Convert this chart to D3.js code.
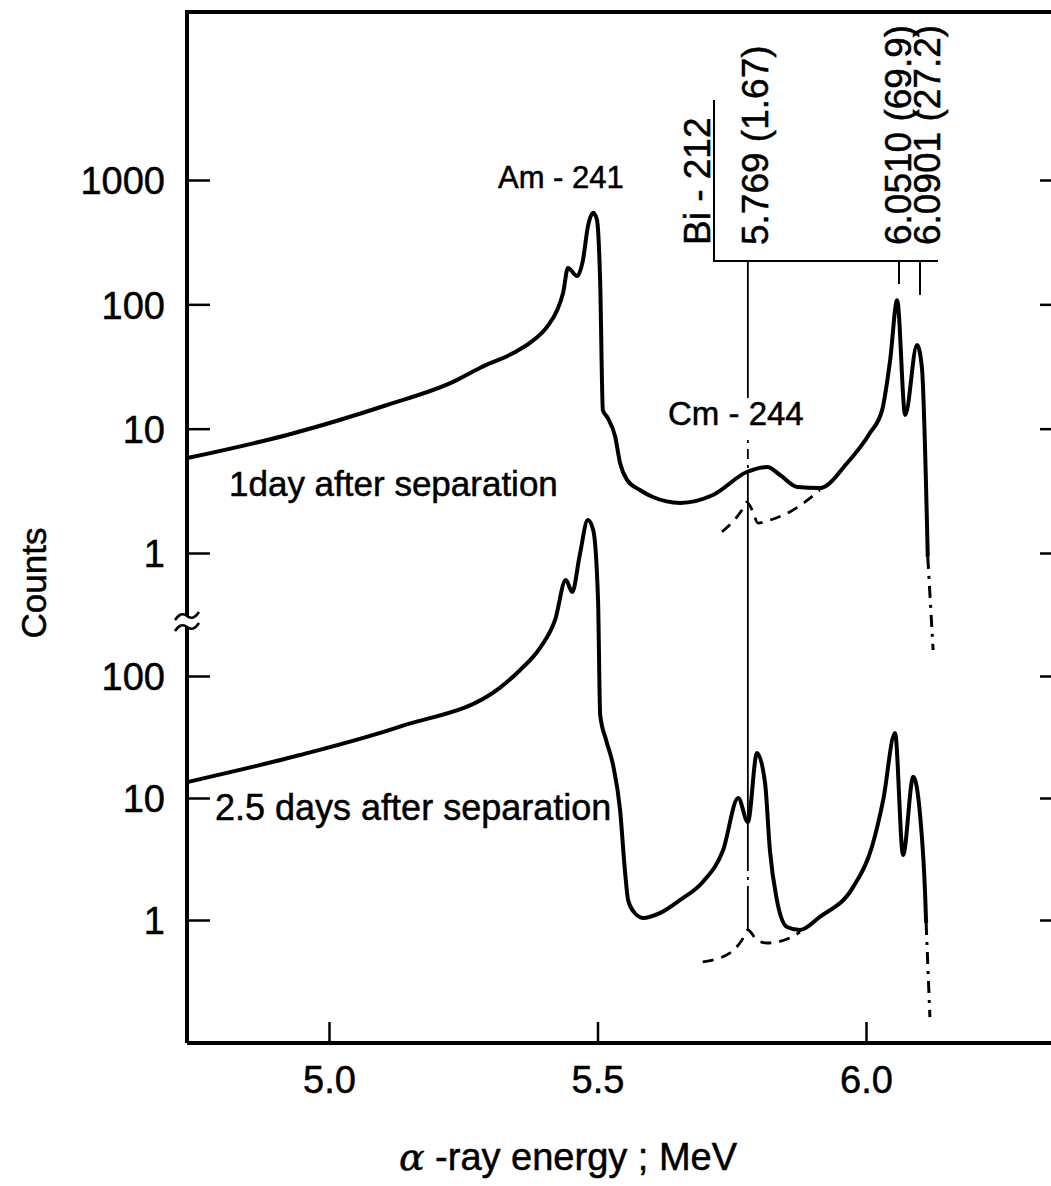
<!DOCTYPE html>
<html>
<head>
<meta charset="utf-8">
<script src="https://cdn.jsdelivr.net/npm/d3@7"></script>
<style>
  body { margin: 0; background: #fff; }
  text { font-family: "Liberation Sans", Arial, sans-serif; fill: #000; stroke: #000; stroke-width: 0.5px; }
</style>
</head>
<body>
<svg id="chart" width="1051" height="1186"></svg>
<script>
///////// Data
var xTickValues = [5.0, 5.5, 6.0]
var upperTickValues = [1, 10, 100, 1000]
var lowerTickValues = [1, 10, 100]

// 1 day after separation (upper panel)
var day1Energy = [4.736, 4.922, 5.108, 5.233, 5.281, 5.343, 5.374, 5.406, 5.425, 5.436, 5.445, 5.462, 5.473, 5.482, 5.492, 5.499,
                  5.505, 5.510, 5.518, 5.533, 5.542, 5.555, 5.579, 5.603, 5.654, 5.715, 5.778, 5.816, 5.840, 5.872, 5.914,
                  5.965, 6.007, 6.030, 6.045, 6.058, 6.073, 6.095, 6.104, 6.115]
var day1Counts = [5.8, 8.9, 15.5, 24.0, 30.8, 40.6, 48.9, 65.8, 90, 124, 196, 169, 228, 420, 544, 477,
                  149, 14.1, 12.4, 8.6, 5.3, 3.87, 3.21, 2.82, 2.53, 2.93, 4.48, 4.92, 4.24, 3.40, 3.33,
                  5.3, 9.2, 14.1, 35.7, 108, 12.9, 47.1, 31.4, 0.93]
var day1TailEnergy = [6.115, 6.125]
var day1TailCounts = [0.93, 0.166]
// Cm-244 component, dashed
var day1CmEnergy = [5.732, 5.769, 5.778, 5.788, 5.799, 5.821, 5.858, 5.914]
var day1CmCounts = [1.48, 2.22, 2.57, 2.22, 1.74, 1.84, 2.14, 3.2]

// 2.5 days after separation (lower panel)
var day25Energy = [4.736, 4.946, 5.132, 5.318, 5.356, 5.393, 5.421, 5.441, 5.453, 5.467, 5.482, 5.492, 5.501, 5.505,
                   5.516, 5.529, 5.542, 5.551, 5.557, 5.568, 5.585, 5.616, 5.654, 5.696, 5.734, 5.762, 5.780, 5.797,
                   5.812, 5.821, 5.834, 5.853, 5.877, 5.914, 5.976, 6.011, 6.032, 6.054, 6.069, 6.088, 6.101, 6.110, 6.112]
var day25Counts = [13.5, 22.5, 38.5, 80, 112, 170, 288, 612, 488, 982, 1900, 1573, 420, 47.9,
                   29.9, 18.6, 8.0, 2.57, 1.46, 1.16, 1.04, 1.14, 1.46, 2.05, 3.75, 10, 6.36, 23.4,
                   13.3, 3.75, 1.46, 0.876, 0.828, 1.06, 1.86, 3.97, 9.6, 34.1, 3.41, 14.9, 7.0, 1.66, 0.945]
var day25TailEnergy = [6.112, 6.119]
var day25TailCounts = [0.945, 0.160]
var day25CmEnergy = [5.696, 5.747, 5.769, 5.780, 5.797, 5.816, 5.858, 5.877]
var day25CmCounts = [0.453, 0.537, 0.686, 0.828, 0.686, 0.648, 0.712, 0.797]

// Bi-212 lines: drawn positions and their labels
var biLineEnergy = [5.780, 6.0615, 6.1006]
var biLineLabels = ["5.769 (1.67)", "6.0510 (69.9)", "6.0901 (27.2)"]

///////// Layout
var svg = d3.select("#chart")
var padLeft = 187, padTop = 12, padBottom = 1043, padRight = 1051

var x = d3.scaleLinear().domain([5.0, 6.0]).range([329, 866])
var yU = d3.scaleLog().domain([1, 1000]).range([553, 180])
var yL = d3.scaleLog().domain([1, 100]).range([920, 676])

function zip(es, cs) { return es.map(function (e, i) { return [e, cs[i]] }) }

var lineU = d3.line().x(function (d) { return x(d[0]) }).y(function (d) { return yU(d[1]) }).curve(d3.curveMonotoneX)
var lineL = d3.line().x(function (d) { return x(d[0]) }).y(function (d) { return yL(d[1]) }).curve(d3.curveMonotoneX)

///////// Axes
var gUl = svg.append("g").attr("transform", "translate(" + padLeft + ",0)")
    .call(d3.axisLeft(yU).tickValues(upperTickValues).tickFormat(d3.format("d")).tickSize(-23).tickSizeOuter(0).tickPadding(22))
var gLl = svg.append("g").attr("transform", "translate(" + padLeft + ",0)")
    .call(d3.axisLeft(yL).tickValues(lowerTickValues).tickFormat(d3.format("d")).tickSize(-23).tickSizeOuter(0).tickPadding(22))
var gUr = svg.append("g").attr("transform", "translate(" + (padRight + 8) + ",0)")
    .call(d3.axisRight(yU).tickValues(upperTickValues).tickFormat("").tickSize(-19).tickSizeOuter(0))
var gLr = svg.append("g").attr("transform", "translate(" + (padRight + 8) + ",0)")
    .call(d3.axisRight(yL).tickValues(lowerTickValues).tickFormat("").tickSize(-19).tickSizeOuter(0))
var gX = svg.append("g").attr("transform", "translate(0," + padBottom + ")")
    .call(d3.axisBottom(x).tickValues(xTickValues).tickFormat(d3.format(".1f")).tickSize(-21).tickSizeOuter(0))

svg.selectAll(".domain").remove()
svg.selectAll(".tick line").attr("stroke", "#000").attr("stroke-width", 2.5)
gUl.selectAll("text").style("font-size", "38px").attr("dy", "0.36em")
gLl.selectAll("text").style("font-size", "38px").attr("dy", "0.36em")
gX.selectAll("text").style("font-size", "38px").attr("y", 50).attr("dy", 0)

// frame
svg.append("path")
    .attr("d", "M" + padLeft + "," + padBottom + "V" + padTop + "H" + (padRight + 10) + "M" + padLeft + "," + padBottom + "H" + (padRight + 10))
    .attr("fill", "none").attr("stroke", "#000").attr("stroke-width", 4)

// axis break
svg.append("rect").attr("x", padLeft - 4).attr("y", 616).attr("width", 8).attr("height", 11).attr("fill", "#fff")
;[616, 627].forEach(function (yy) {
    svg.append("path")
        .attr("d", "M" + (padLeft - 12) + "," + (yy + 4) + " q6,-9 12,-4 t12,-4")
        .attr("fill", "none").attr("stroke", "#000").attr("stroke-width", 2.5)
})

///////// Titles
svg.append("text").attr("transform", "translate(46,583) rotate(-90)")
    .attr("text-anchor", "middle").style("font-size", "35px").text("Counts")
svg.append("text").attr("x", 568).attr("y", 1170).attr("text-anchor", "middle").style("font-size", "38px")
    .html('<tspan font-style="italic" font-family="DejaVu Serif">α</tspan> -ray energy  ; MeV')

///////// Curves
function drawCurve(data, line, width, dash) {
    svg.append("path").datum(data)
        .attr("d", line)
        .attr("fill", "none")
        .attr("stroke", "#000")
        .attr("stroke-width", width)
        .attr("stroke-linejoin", "round")
        .attr("stroke-dasharray", dash)
}
drawCurve(zip(day1Energy, day1Counts), lineU, 4, null)
drawCurve(zip(day1TailEnergy, day1TailCounts), lineU, 3, "12,7,3,7")
drawCurve(zip(day1CmEnergy, day1CmCounts), lineU, 2.8, "11,8")
drawCurve(zip(day25Energy, day25Counts), lineL, 4, null)
drawCurve(zip(day25TailEnergy, day25TailCounts), lineL, 3, "12,7,3,7")
drawCurve(zip(day25CmEnergy, day25CmCounts), lineL, 2.8, "11,8")

///////// Bi-212 marker lines
var bracketY = 261
svg.append("path")
    .attr("d", "M714,100V" + bracketY + "H938")
    .attr("fill", "none").attr("stroke", "#000").attr("stroke-width", 2)
svg.append("line").attr("x1", x(biLineEnergy[1])).attr("x2", x(biLineEnergy[1]))
    .attr("y1", bracketY).attr("y2", 284).attr("stroke", "#000").attr("stroke-width", 2)
svg.append("line").attr("x1", x(biLineEnergy[2])).attr("x2", x(biLineEnergy[2]))
    .attr("y1", bracketY).attr("y2", 295).attr("stroke", "#000").attr("stroke-width", 2)

// 5.769 guide line running through both panels
var gx = x(biLineEnergy[0])
var guideSegs = [
    [bracketY, 398, null],
    [440, yU(4.5), "3,6,10,6"],
    [yU(4.5), 863, null],
    [863, 890, "8,6,3,6"],
    [890, yL(0.828), null]
]
guideSegs.forEach(function (s) {
    svg.append("line").attr("x1", gx).attr("x2", gx).attr("y1", s[0]).attr("y2", s[1])
        .attr("stroke", "#000").attr("stroke-width", 1.8).attr("stroke-dasharray", s[2])
})

// rotated labels
svg.append("text").attr("transform", "translate(697,245) rotate(-90)")
    .attr("dy", "0.36em").style("font-size", "37px").text("Bi - 212")
var labelX = [755, 898, 927]
biLineLabels.forEach(function (t, i) {
    svg.append("text").attr("transform", "translate(" + labelX[i] + ",245) rotate(-90)")
        .attr("dy", "0.36em").style("font-size", "37px").text(t)
})

///////// Annotations
svg.append("text").attr("x", 498).attr("y", 188).style("font-size", "31px").text("Am - 241")
svg.append("text").attr("x", 668).attr("y", 425).style("font-size", "33px").text("Cm - 244")
svg.append("text").attr("x", 229).attr("y", 496).style("font-size", "35px").text("1day after separation")
svg.append("text").attr("x", 215).attr("y", 820).style("font-size", "36px").text("2.5 days after separation")
</script>
</body>
</html>
